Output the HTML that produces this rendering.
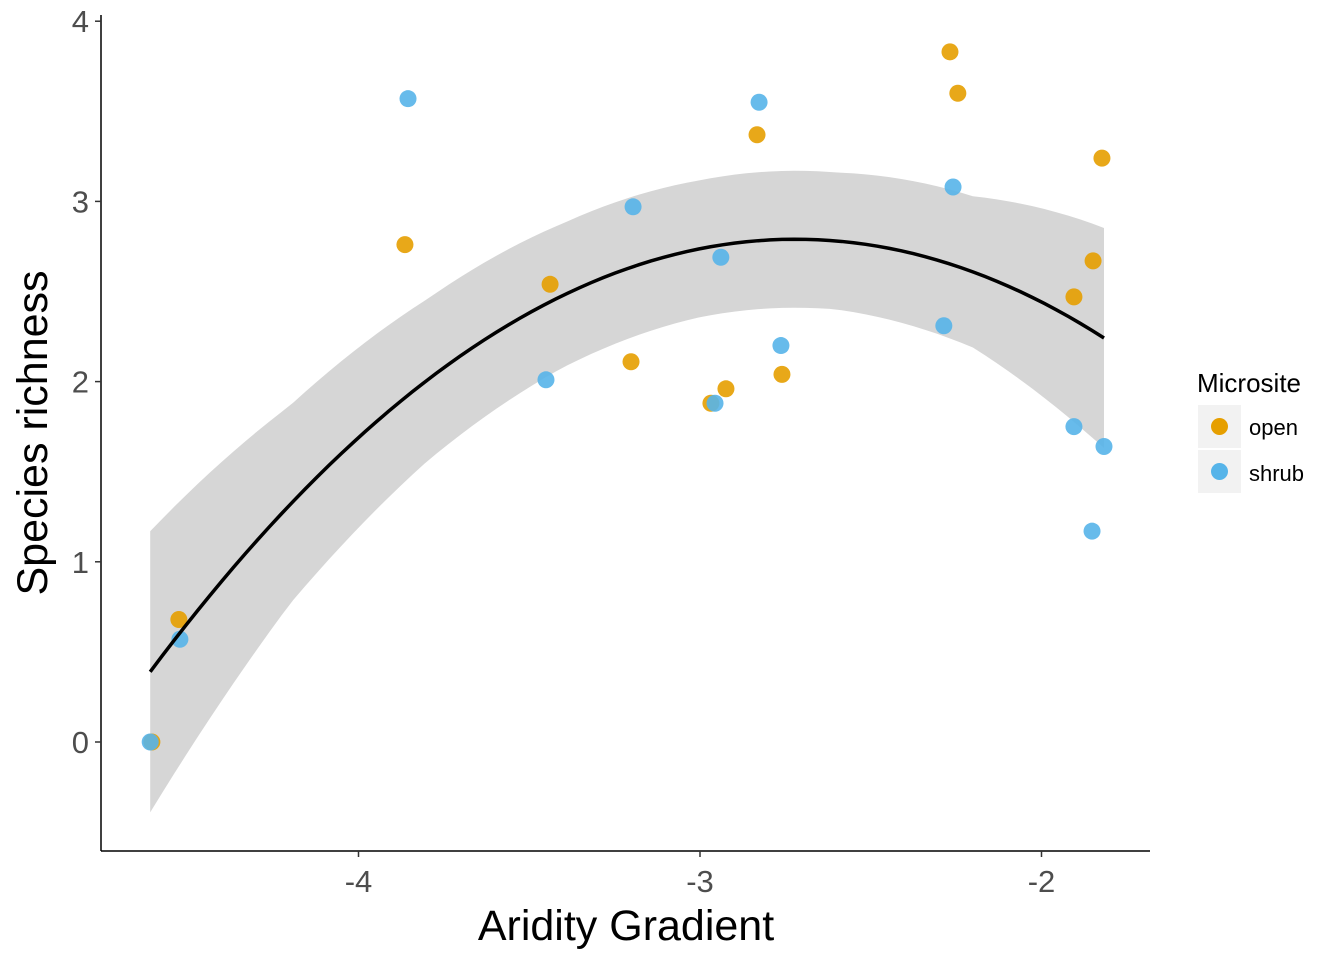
<!DOCTYPE html>
<html><head><meta charset="utf-8"><style>
body{margin:0;background:#fff;}
svg{display:block;font-family:"Liberation Sans",Arial,sans-serif;}
</style></head><body>
<svg id="chart" width="1344" height="960">
<g id="band"></g>
<g id="pts"></g>
<g id="fit"></g>
<g id="axes"></g>
<text x="626" y="940" font-size="43" text-anchor="middle" fill="#000">Aridity Gradient</text>
<text transform="translate(47,433) rotate(-90)" font-size="43" text-anchor="middle" fill="#000">Species richness</text>
<g>
<text x="1197" y="392" font-size="26" fill="#000">Microsite</text>
<rect x="1198" y="405" width="43" height="43" fill="#f2f2f2"/>
<circle cx="1219.5" cy="426.5" r="8.5" fill="#E69F00"/>
<text x="1249" y="435" font-size="22" fill="#000">open</text>
<rect x="1198" y="450" width="43" height="43" fill="#f2f2f2"/>
<circle cx="1219.5" cy="471.5" r="8.5" fill="#56B4E9"/>
<text x="1249" y="481" font-size="22" fill="#000">shrub</text>
</g>
</svg>
<script>
const openX=[-2.268,-2.245,-2.833,-1.823,-3.864,-3.439,-1.849,-1.905,-3.202,-2.924,-2.760,-2.968,-4.526,-4.605];
const openY=[3.83,3.60,3.37,3.24,2.76,2.54,2.67,2.47,2.11,1.96,2.04,1.88,0.68,0.00];
const shrubX=[-3.855,-2.827,-2.259,-3.196,-2.939,-2.286,-2.763,-3.451,-2.956,-1.905,-1.817,-1.852,-4.523,-4.610];
const shrubY=[3.57,3.55,3.08,2.97,2.69,2.31,2.20,2.01,1.88,1.75,1.64,1.17,0.57,0.00];
const fitCoef=[-0.672,-2.72,2.79]; // a, vertex x, vertex y
const seX=[-4.61,-4.2,-3.8,-3.4,-3.0,-2.6,-2.2,-1.82];
const seVal=[0.78,0.55,0.45,0.40,0.38,0.38,0.42,0.61];
const xTicks=[-4,-3,-2];
const yTicks=[0,1,2,3,4];
const NS="http://www.w3.org/2000/svg";
const sx=v=>700+(v+3)*341.5;
const sy=v=>742-v*180.2;
function mk(t,a,p){const e=document.createElementNS(NS,t);for(const k in a)e.setAttribute(k,a[k]);p.appendChild(e);return e;}
function fitY(x){return fitCoef[0]*(x-fitCoef[1])**2+fitCoef[2];}
function se(x){for(let i=0;i<seX.length-1;i++){if(x<=seX[i+1]){const t=(x-seX[i])/(seX[i+1]-seX[i]);return seVal[i]+t*(seVal[i+1]-seVal[i]);}}return seVal[seVal.length-1];}
const x0=Math.min(...openX,...shrubX),x1=Math.max(...openX,...shrubX);
let up=[],lo=[],ln=[];
for(let i=0;i<=80;i++){const x=x0+(x1-x0)*i/80;const y=fitY(x),s=se(x);
up.push(sx(x)+','+sy(y+s));lo.unshift(sx(x)+','+sy(y-s));ln.push(sx(x)+','+sy(y));}
const band=mk('polygon',{points:up.concat(lo).join(' '),fill:'#d6d6d6'},document.getElementById('band'));


const line=mk('polyline',{points:ln.join(' '),fill:'none',stroke:'#000','stroke-width':3.5},document.getElementById('fit'));


const pg=document.getElementById('pts');
openX.forEach((x,i)=>{const c=mk('circle',{cx:sx(x),cy:sy(openY[i]),r:8.5,fill:'#E69F00','fill-opacity':0.9},pg);

});
shrubX.forEach((x,i)=>{const c=mk('circle',{cx:sx(x),cy:sy(shrubY[i]),r:8.5,fill:'#56B4E9','fill-opacity':0.9},pg);

});
const ax=document.getElementById('axes');
const xl=mk('line',{x1:101,y1:851,x2:1150,y2:851,stroke:'#000','stroke-width':1.5},ax);


const yl=mk('line',{x1:101,y1:15,x2:101,y2:851,stroke:'#000','stroke-width':1.5},ax);


xTicks.forEach(t=>{mk('line',{x1:sx(t),y1:851,x2:sx(t),y2:857,stroke:'#333','stroke-width':1.5},ax);
const tx=mk('text',{x:sx(t),y:892,'font-size':31,'text-anchor':'middle',fill:'#4d4d4d'},ax);tx.textContent=t;

});
yTicks.forEach(t=>{mk('line',{x1:95,y1:sy(t),x2:101,y2:sy(t),stroke:'#333','stroke-width':1.5},ax);
const tx=mk('text',{x:89,y:sy(t)+11,'font-size':31,'text-anchor':'end',fill:'#4d4d4d'},ax);tx.textContent=t;

});
</script>
</body></html>
